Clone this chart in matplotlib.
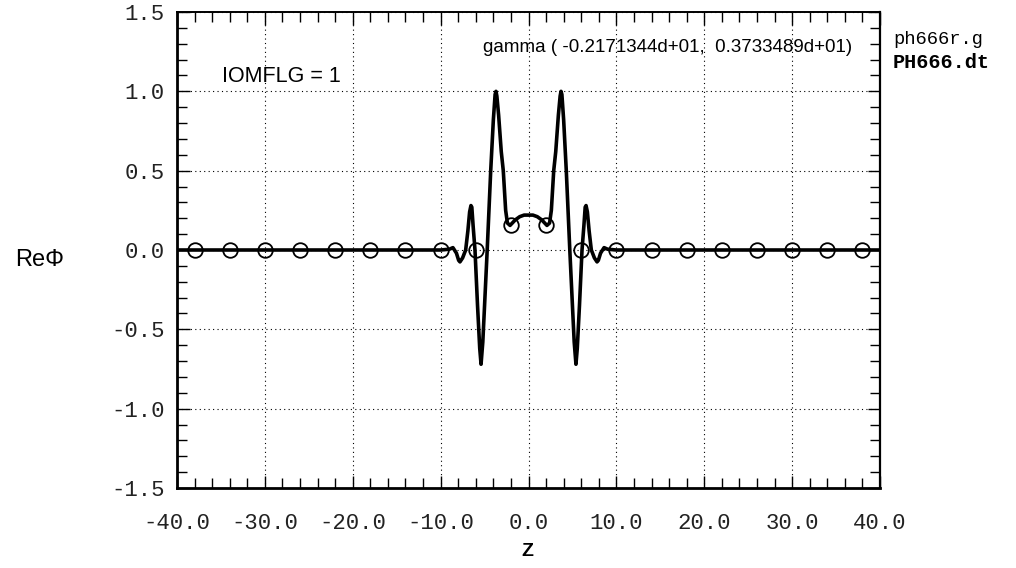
import matplotlib
matplotlib.use("Agg")
import matplotlib.pyplot as plt
from matplotlib.ticker import MultipleLocator, FormatStrFormatter

# Re(Phi) along z
z = [-40.0, -10.0, -9.0, -8.6, -8.2, -7.95, -7.8, -7.5, -7.15, -6.9, -6.7, -6.55,
     -6.45, -6.3, -6.09, -5.8, -5.55, -5.4, -5.2, -5.0, -4.7, -4.5, -4.3, -4.0,
     -3.8, -3.7, -3.6, -3.4, -3.1, -2.87, -2.6, -2.4, -2.1, -1.5, -1.0, -0.5, 0.0,
     0.5, 1.0, 1.5, 2.1, 2.4, 2.6, 2.87, 3.1, 3.4, 3.6, 3.7, 3.8, 4.0, 4.3, 4.5,
     4.7, 5.0, 5.2, 5.4, 5.55, 5.8, 6.09, 6.3, 6.45, 6.55, 6.7, 6.9, 7.15, 7.5,
     7.8, 7.95, 8.2, 8.6, 9.0, 10.0, 40.0]
re_phi = [0.0, 0.0, 0.005, 0.015, -0.02, -0.065, -0.075, -0.05, 0.0, 0.12, 0.24, 0.28,
          0.27, 0.15, 0.0, -0.35, -0.62, -0.72, -0.58, -0.35, 0.0, 0.25, 0.5, 0.82,
          0.98, 1.0, 0.97, 0.85, 0.62, 0.5, 0.25, 0.17, 0.155, 0.19, 0.21, 0.22, 0.22,
          0.22, 0.21, 0.19, 0.155, 0.17, 0.25, 0.5, 0.62, 0.85, 0.97, 1.0, 0.98, 0.82,
          0.5, 0.25, 0.0, -0.35, -0.58, -0.72, -0.62, -0.35, 0.0, 0.15, 0.27, 0.28,
          0.24, 0.12, 0.0, -0.05, -0.075, -0.065, -0.02, 0.015, 0.005, 0.0, 0.0]

# sampled values on the coarse mesh
z_pts = [-38, -34, -30, -26, -22, -18, -14, -10, -6, -2,
         2, 6, 10, 14, 18, 22, 26, 30, 34, 38]
phi_pts = [0, 0, 0, 0, 0, 0, 0, 0, 0, 0.16,
           0.16, 0, 0, 0, 0, 0, 0, 0, 0, 0]

fig = plt.figure(figsize=(10.16, 5.68), dpi=100)
ax = fig.add_axes([177/1016, 1 - 488/568, 703/1016, 476/568])

ax.plot(z, re_phi, color="black", lw=2.6)
ax.plot(z_pts, phi_pts, "o", mfc="none", mec="black", ms=10.5, mew=1.3)

ax.set_xlim(-40, 40)
ax.set_ylim(-1.5, 1.5)
ax.xaxis.set_major_locator(MultipleLocator(10))
ax.xaxis.set_minor_locator(MultipleLocator(2))
ax.yaxis.set_major_locator(MultipleLocator(0.5))
ax.yaxis.set_minor_locator(MultipleLocator(0.1))
ax.xaxis.set_major_formatter(FormatStrFormatter("%.1f"))
ax.yaxis.set_major_formatter(FormatStrFormatter("%.1f"))

ax.tick_params(which="both", direction="in", top=True, right=True, color="black")
ax.tick_params(which="major", length=9, width=1.0)
ax.tick_params(which="minor", length=7, width=1.0)
ax.tick_params(axis="x", which="major", pad=18)
ax.tick_params(axis="y", which="major", pad=9)
for lab in ax.get_xticklabels() + ax.get_yticklabels():
    lab.set_family("Liberation Mono")
    lab.set_fontsize(16)
    lab.set_color("#222222")

ax.grid(True, which="major", color="black", ls=(0, (1, 3)), lw=0.8)

for side, w in [("left", 2.0), ("bottom", 2.0), ("top", 1.4), ("right", 1.6)]:
    ax.spines[side].set_linewidth(w)
    ax.spines[side].set_color("black")

fig.text(40/1016, 1 - 260/568, "Re\u03a6", family="Liberation Sans",
         fontsize=17, ha="center", va="center")
fig.text(527/1016, 1 - 551/568, "Z", family="Liberation Sans",
         fontsize=14, fontweight="bold", ha="center", va="center")
fig.text(222/1016, 1 - 76/568, "IOMFLG = 1", family="Liberation Sans",
         fontsize=15.5, ha="left", va="center")
fig.text(483/1016, 1 - 47/568, "gamma ( -0.2171344d+01,  0.3733489d+01)",
         family="Liberation Sans", fontsize=13.5, ha="left", va="center")
fig.text(893/1016, 1 - 40/568, "ph666r.g", family="Liberation Mono",
         fontsize=13.5, ha="left", va="center")
fig.text(893/1016, 1 - 62/568, "PH666.dt", family="Liberation Mono",
         fontsize=14.5, fontweight="bold", ha="left", va="center")

fig.savefig("out.png", dpi=100)
